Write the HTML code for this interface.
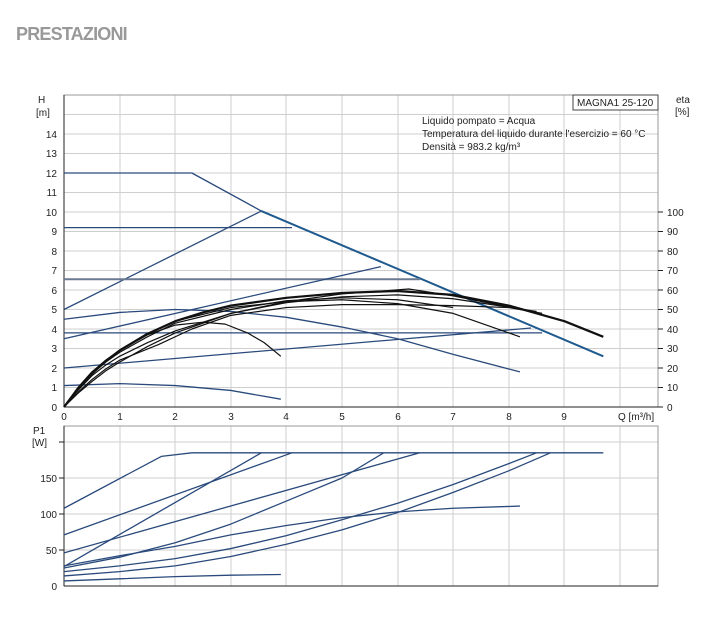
<!DOCTYPE html>
<html><head><meta charset="utf-8"><style>
body{margin:0;background:#fff;width:708px;height:617px;overflow:hidden}
svg{display:block}
text{font-family:"Liberation Sans",sans-serif;font-size:10px;fill:#222}
.g{stroke:#cfcfcf;stroke-width:1}
.b{fill:none;stroke:#2a4a7c;stroke-width:1.3;vector-effect:non-scaling-stroke;stroke-linejoin:round}
.k{fill:none;stroke:#111;stroke-width:1.2;vector-effect:non-scaling-stroke;stroke-linejoin:round}
</style></head><body>
<svg width="708" height="617" viewBox="0 0 708 617">
<text x="16" y="40" style="font-size:18px;font-weight:bold;fill:#999;letter-spacing:-0.8px">PRESTAZIONI</text>
<g class="g">
<line x1="120" y1="95" x2="120" y2="407"/><line x1="175" y1="95" x2="175" y2="407"/><line x1="231" y1="95" x2="231" y2="407"/><line x1="286" y1="95" x2="286" y2="407"/><line x1="342" y1="95" x2="342" y2="407"/><line x1="398" y1="95" x2="398" y2="407"/><line x1="453" y1="95" x2="453" y2="407"/><line x1="509" y1="95" x2="509" y2="407"/><line x1="564" y1="95" x2="564" y2="407"/><line x1="620" y1="95" x2="620" y2="407"/>
<line x1="64" y1="387.5" x2="658" y2="387.5"/><line x1="64" y1="368" x2="658" y2="368"/><line x1="64" y1="348.5" x2="658" y2="348.5"/><line x1="64" y1="329" x2="658" y2="329"/><line x1="64" y1="309.5" x2="658" y2="309.5"/><line x1="64" y1="290" x2="658" y2="290"/><line x1="64" y1="270.5" x2="658" y2="270.5"/><line x1="64" y1="251" x2="658" y2="251"/><line x1="64" y1="231.5" x2="658" y2="231.5"/><line x1="64" y1="212" x2="658" y2="212"/><line x1="64" y1="192.5" x2="658" y2="192.5"/><line x1="64" y1="173" x2="658" y2="173"/><line x1="64" y1="153.5" x2="658" y2="153.5"/><line x1="64" y1="134" x2="658" y2="134"/><line x1="64" y1="114.5" x2="658" y2="114.5"/>
</g>
<rect x="64" y="95" width="594" height="312" fill="none" stroke="#999"/>
<line x1="64" y1="95" x2="64" y2="407" stroke="#222"/><line x1="64" y1="407" x2="658" y2="407" stroke="#222"/>
<g text-anchor="end">
<text x="57" y="411">0</text><text x="57" y="391">1</text><text x="57" y="372">2</text><text x="57" y="352">3</text><text x="57" y="333">4</text><text x="57" y="313">5</text><text x="57" y="294">6</text><text x="57" y="274">7</text><text x="57" y="255">8</text><text x="57" y="235">9</text><text x="57" y="216">10</text><text x="57" y="196">11</text><text x="57" y="177">12</text><text x="57" y="157">13</text><text x="57" y="138">14</text>
</g>
<text x="38" y="103">H</text><text x="36" y="116">[m]</text>
<g stroke="#222"><line x1="658" y1="212" x2="663" y2="212"/><line x1="658" y1="231.5" x2="663" y2="231.5"/><line x1="658" y1="251" x2="663" y2="251"/><line x1="658" y1="270.5" x2="663" y2="270.5"/><line x1="658" y1="290" x2="663" y2="290"/><line x1="658" y1="309.5" x2="663" y2="309.5"/><line x1="658" y1="329" x2="663" y2="329"/><line x1="658" y1="348.5" x2="663" y2="348.5"/><line x1="658" y1="368" x2="663" y2="368"/><line x1="658" y1="387.5" x2="663" y2="387.5"/><line x1="658" y1="407" x2="663" y2="407"/></g>
<g><text x="667" y="216">100</text><text x="667" y="235">90</text><text x="667" y="255">80</text><text x="667" y="274">70</text><text x="667" y="294">60</text><text x="667" y="313">50</text><text x="667" y="333">40</text><text x="667" y="352">30</text><text x="667" y="372">20</text><text x="667" y="391">10</text><text x="667" y="411">0</text></g>
<text x="676" y="103">eta</text><text x="675" y="115">[%]</text>
<g text-anchor="middle"><text x="64" y="420">0</text><text x="120" y="420">1</text><text x="175" y="420">2</text><text x="231" y="420">3</text><text x="286" y="420">4</text><text x="342" y="420">5</text><text x="398" y="420">6</text><text x="453" y="420">7</text><text x="509" y="420">8</text><text x="564" y="420">9</text></g>
<text x="618" y="420">Q [m³/h]</text>
<rect x="573" y="95" width="85" height="15" fill="#fff" stroke="#444"/>
<text x="577" y="106">MAGNA1 25-120</text>
<text x="422" y="124">Liquido pompato = Acqua</text>
<text x="422" y="137">Temperatura del liquido durante l'esercizio = 60 °C</text>
<text x="422" y="150">Densità = 983.2 kg/m³</text>
<g transform="translate(64,407) scale(55.6,-19.5)">
<polyline class="b" points="0,12 2.3,12 3.55,10.05"/>
<polyline class="b" style="stroke:#1f5a8e;stroke-width:2" points="3.55,10.05 9.7,2.6"/>
<polyline class="b" points="0,5 3.55,10.05"/>
<polyline class="b" points="0,9.2 4.1,9.2"/>
<polyline class="b" style="stroke:#6a7a90;stroke-width:2" points="0,6.55 6.4,6.55"/>
<polyline class="b" points="0,3.5 5.7,7.2"/>
<polyline class="b" points="0,4.5 1,4.85 2,5 3,4.9 4,4.6 5,4.1 6,3.5 7,2.7 8.2,1.8"/>
<polyline class="b" points="0,3.8 8.6,3.8"/>
<polyline class="b" points="0,2 8.4,4.05"/>
<polyline class="b" points="0,1.1 1,1.2 2,1.1 3,0.85 3.9,0.4"/>
<polyline class="k" style="stroke-width:2.2" points="0,0 0.25,0.95 0.5,1.7 0.75,2.35 1,2.9 1.5,3.75 2,4.4 2.5,4.85 3,5.2 4,5.6 5,5.85 6,5.95 7,5.75 8,5.2 9,4.4 9.7,3.6"/>
<polyline class="k" points="0,0 0.25,1 0.5,1.8 0.75,2.4 1,2.9 1.5,3.7 2,4.2 2.5,4.35 2.9,4.25 3.3,3.8 3.6,3.3 3.9,2.6"/>
<polyline class="k" points="0,0 0.25,0.95 0.5,1.75 0.75,2.4 1,2.9 1.5,3.75 2,4.4 3,5.1 4,5.4 5,5.5 6,5.3 7,4.8 8.2,3.6"/>
<polyline class="k" points="0,0 0.25,0.75 0.5,1.4 0.75,1.95 1,2.4 1.7,3.2 2.3,4 3,4.7 4,5.1 5,5.25 6,5.25 7,5.2 8,5.1 8.6,4.8"/>
<polyline class="k" points="0,0 0.25,0.7 0.5,1.3 0.75,1.85 1,2.3 1.5,3.1 2,3.8 3,4.8 4,5.4 5,5.8 6.2,6.05 7,5.7 8.4,4.9"/>
<polyline class="k" points="0,0 0.25,0.85 0.5,1.6 0.75,2.15 1,2.6 1.5,3.3 2,3.9 3,4.8 4,5.35 5,5.65 6,5.75 7,5.55 8.5,4.9"/>
<polyline class="k" points="0,0 0.25,0.9 0.5,1.7 0.75,2.3 1,2.8 1.5,3.6 2,4.3 3,5.0 4,5.45 5,5.6 6,5.5 7,5.1"/>
</g>
<g class="g">
<line x1="120" y1="426" x2="120" y2="586"/><line x1="175" y1="426" x2="175" y2="586"/><line x1="231" y1="426" x2="231" y2="586"/><line x1="286" y1="426" x2="286" y2="586"/><line x1="342" y1="426" x2="342" y2="586"/><line x1="398" y1="426" x2="398" y2="586"/><line x1="453" y1="426" x2="453" y2="586"/><line x1="509" y1="426" x2="509" y2="586"/><line x1="564" y1="426" x2="564" y2="586"/><line x1="620" y1="426" x2="620" y2="586"/>
<line x1="64" y1="550" x2="658" y2="550"/><line x1="64" y1="514" x2="658" y2="514"/><line x1="64" y1="478" x2="658" y2="478"/><line x1="64" y1="442" x2="658" y2="442"/>
</g>
<rect x="64" y="426" width="594" height="160" fill="none" stroke="#999"/>
<line x1="64" y1="426" x2="64" y2="586" stroke="#222"/><line x1="64" y1="586" x2="658" y2="586" stroke="#222"/>
<g stroke="#222"><line x1="59" y1="550" x2="64" y2="550"/><line x1="59" y1="514" x2="64" y2="514"/><line x1="59" y1="478" x2="64" y2="478"/><line x1="59" y1="442" x2="64" y2="442"/></g>
<g text-anchor="end"><text x="57" y="590">0</text><text x="57" y="554">50</text><text x="57" y="518">100</text><text x="57" y="482">150</text></g>
<text x="33" y="434">P1</text><text x="32" y="446">[W]</text>
<g transform="translate(64,586) scale(55.6,-0.72)">
<polyline class="b" points="0,108 1.75,180 2.3,185 9.7,185"/>
<polyline class="b" points="0,71 4.1,185"/>
<polyline class="b" points="0,27 3.55,185"/>
<polyline class="b" points="0,46 6.4,185"/>
<polyline class="b" points="0,25 1,40 2,60 3,86 4,118 5,150 5.75,185"/>
<polyline class="b" points="0,20 1,28 2,38 3,52 4,70 5,92 6,115 7,141 8,170 8.5,185"/>
<polyline class="b" points="0,14 1,20 2,28 3,41 4,58 5,78 6,102 7,130 8,160 8.75,185"/>
<polyline class="b" points="0,28 1,42 2,55 3,71 4,84 5,95 6,103 7,108 8.2,111"/>
<polyline class="b" points="0,7 1,10 2,13 3,15 3.9,16"/>
</g>
</svg>
</body></html>
